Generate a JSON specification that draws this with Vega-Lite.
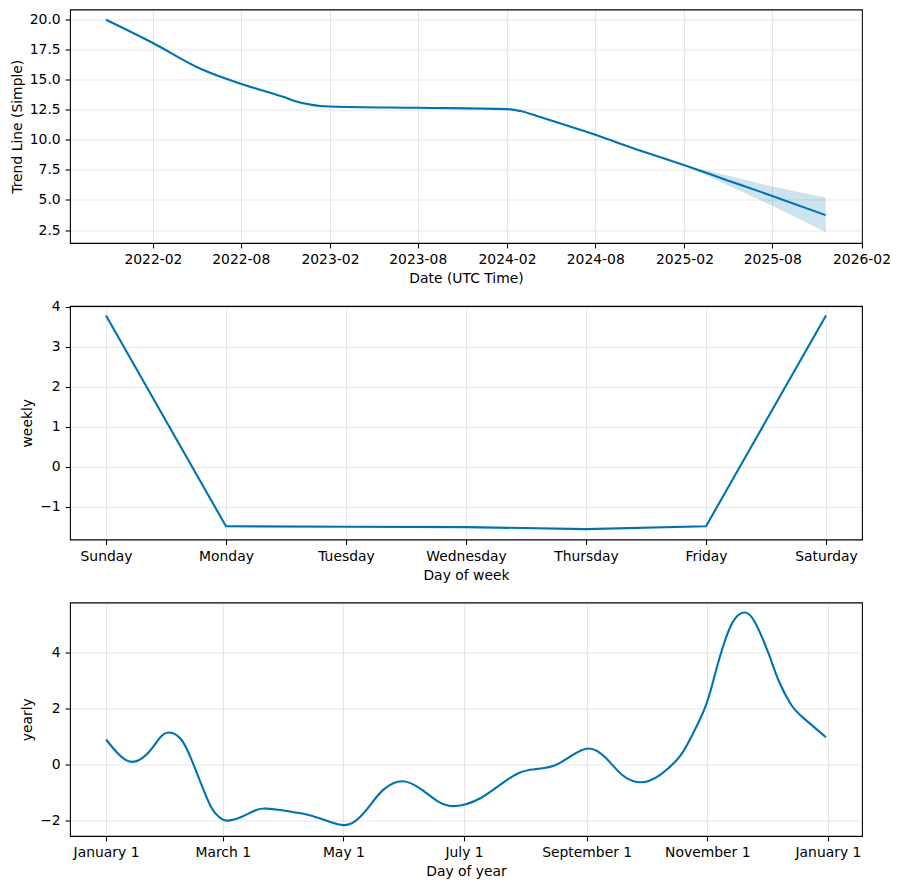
{
  "$schema": "https://vega.github.io/schema/vega-lite/v6.json",
  "padding": {"left": 9, "top": 8.5, "right": 5, "bottom": 5},
  "background": "white",
  "spacing": 62.5,
  "bounds": "flush",
  "datasets": {
    "trend": [
      {"ds": "2021-10-27", "trend": 20.0},
      {"ds": "2022-02-01", "trend": 18.06},
      {"ds": "2022-05-10", "trend": 15.92},
      {"ds": "2022-08-01", "trend": 14.67},
      {"ds": "2022-10-29", "trend": 13.56},
      {"ds": "2022-11-18", "trend": 13.26},
      {"ds": "2022-12-29", "trend": 12.89},
      {"ds": "2023-01-12", "trend": 12.82},
      {"ds": "2023-02-01", "trend": 12.78},
      {"ds": "2023-08-01", "trend": 12.67},
      {"ds": "2024-02-01", "trend": 12.56},
      {"ds": "2024-03-02", "trend": 12.39},
      {"ds": "2024-04-08", "trend": 11.92},
      {"ds": "2024-08-01", "trend": 10.42},
      {"ds": "2024-11-01", "trend": 9.12},
      {"ds": "2025-02-01", "trend": 7.88, "trend_lower": 7.88, "trend_upper": 7.88},
      {"ds": "2025-05-01", "trend": 6.63, "trend_lower": 6.23, "trend_upper": 7.03},
      {"ds": "2025-08-01", "trend": 5.34, "trend_lower": 4.51, "trend_upper": 6.12},
      {"ds": "2025-11-19", "trend": 3.74, "trend_lower": 2.33, "trend_upper": 5.2}
    ],
    "weekly": [
      {"day": "Sunday", "weekly": 3.775},
      {"day": "Monday", "weekly": -1.49},
      {"day": "Tuesday", "weekly": -1.5},
      {"day": "Wednesday", "weekly": -1.51},
      {"day": "Thursday", "weekly": -1.56},
      {"day": "Friday", "weekly": -1.49},
      {"day": "Saturday", "weekly": 3.775}
    ],
    "yearly": [
      {"ds": "2017-01-01", "yearly": 0.89},
      {"ds": "2017-01-07", "yearly": 0.39},
      {"ds": "2017-01-14", "yearly": 0.09},
      {"ds": "2017-01-22", "yearly": 0.39},
      {"ds": "2017-01-28", "yearly": 0.93},
      {"ds": "2017-02-02", "yearly": 1.14},
      {"ds": "2017-02-08", "yearly": 0.89},
      {"ds": "2017-02-13", "yearly": 0.21},
      {"ds": "2017-02-18", "yearly": -0.68},
      {"ds": "2017-02-23", "yearly": -1.51},
      {"ds": "2017-02-27", "yearly": -1.87},
      {"ds": "2017-03-03", "yearly": -2.01},
      {"ds": "2017-03-10", "yearly": -1.89},
      {"ds": "2017-03-18", "yearly": -1.63},
      {"ds": "2017-03-23", "yearly": -1.58},
      {"ds": "2017-03-29", "yearly": -1.62},
      {"ds": "2017-04-06", "yearly": -1.71},
      {"ds": "2017-04-14", "yearly": -1.82},
      {"ds": "2017-04-24", "yearly": -2.05},
      {"ds": "2017-05-01", "yearly": -2.17},
      {"ds": "2017-05-07", "yearly": -2.03},
      {"ds": "2017-05-14", "yearly": -1.51},
      {"ds": "2017-05-21", "yearly": -0.92},
      {"ds": "2017-05-31", "yearly": -0.6},
      {"ds": "2017-06-10", "yearly": -0.92},
      {"ds": "2017-06-18", "yearly": -1.33},
      {"ds": "2017-06-27", "yearly": -1.49},
      {"ds": "2017-07-09", "yearly": -1.22},
      {"ds": "2017-07-19", "yearly": -0.74},
      {"ds": "2017-07-29", "yearly": -0.3},
      {"ds": "2017-08-06", "yearly": -0.17},
      {"ds": "2017-08-15", "yearly": -0.06},
      {"ds": "2017-08-23", "yearly": 0.25},
      {"ds": "2017-09-02", "yearly": 0.57},
      {"ds": "2017-09-11", "yearly": 0.21},
      {"ds": "2017-09-19", "yearly": -0.38},
      {"ds": "2017-09-28", "yearly": -0.64},
      {"ds": "2017-10-08", "yearly": -0.38},
      {"ds": "2017-10-18", "yearly": 0.28},
      {"ds": "2017-10-24", "yearly": 1.0},
      {"ds": "2017-10-31", "yearly": 2.06},
      {"ds": "2017-11-05", "yearly": 3.25},
      {"ds": "2017-11-10", "yearly": 4.44},
      {"ds": "2017-11-15", "yearly": 5.21},
      {"ds": "2017-11-20", "yearly": 5.43},
      {"ds": "2017-11-25", "yearly": 5.09},
      {"ds": "2017-12-02", "yearly": 3.96},
      {"ds": "2017-12-07", "yearly": 3.01},
      {"ds": "2017-12-13", "yearly": 2.18},
      {"ds": "2017-12-19", "yearly": 1.7},
      {"ds": "2017-12-31", "yearly": 0.97}
    ]
  },
  "vconcat": [
    {
      "width": 792,
      "height": 233.5,
      "data": {"name": "trend"},
      "layer": [
        {
          "mark": {"type": "area", "color": "#0072B2", "opacity": 0.2},
          "encoding": {
            "x": {
              "field": "ds", "type": "temporal", "title": "Date (UTC Time)",
              "scale": {"type": "utc", "nice": false, "domain": [{"year": 2021, "month": 8, "date": 14, "utc": true}, {"year": 2026, "month": 2, "date": 2, "utc": true}]},
              "axis": {"format": "%Y-%m", "values": [
                {"year": 2022, "month": 2, "date": 1, "utc": true},
                {"year": 2022, "month": 8, "date": 1, "utc": true},
                {"year": 2023, "month": 2, "date": 1, "utc": true},
                {"year": 2023, "month": 8, "date": 1, "utc": true},
                {"year": 2024, "month": 2, "date": 1, "utc": true},
                {"year": 2024, "month": 8, "date": 1, "utc": true},
                {"year": 2025, "month": 2, "date": 1, "utc": true},
                {"year": 2025, "month": 8, "date": 1, "utc": true},
                {"year": 2026, "month": 2, "date": 1, "utc": true}
              ]}
            },
            "y": {
              "field": "trend_lower", "type": "quantitative", "title": "Trend Line (Simple)",
              "scale": {"domain": [1.42, 20.85], "nice": false, "zero": false},
              "axis": {"values": [2.5, 5, 7.5, 10, 12.5, 15, 17.5, 20], "format": ".1f"}
            },
            "y2": {"field": "trend_upper"}
          }
        },
        {
          "mark": {"type": "line", "color": "#0072B2", "strokeWidth": 2.1, "interpolate": "monotone"},
          "encoding": {
            "x": {
              "field": "ds", "type": "temporal", "title": "Date (UTC Time)",
              "scale": {"type": "utc", "nice": false, "domain": [{"year": 2021, "month": 8, "date": 14, "utc": true}, {"year": 2026, "month": 2, "date": 2, "utc": true}]},
              "axis": {"format": "%Y-%m", "values": [
                {"year": 2022, "month": 2, "date": 1, "utc": true},
                {"year": 2022, "month": 8, "date": 1, "utc": true},
                {"year": 2023, "month": 2, "date": 1, "utc": true},
                {"year": 2023, "month": 8, "date": 1, "utc": true},
                {"year": 2024, "month": 2, "date": 1, "utc": true},
                {"year": 2024, "month": 8, "date": 1, "utc": true},
                {"year": 2025, "month": 2, "date": 1, "utc": true},
                {"year": 2025, "month": 8, "date": 1, "utc": true},
                {"year": 2026, "month": 2, "date": 1, "utc": true}
              ]}
            },
            "y": {
              "field": "trend", "type": "quantitative", "title": "Trend Line (Simple)",
              "scale": {"domain": [1.42, 20.85], "nice": false, "zero": false},
              "axis": {"values": [2.5, 5, 7.5, 10, 12.5, 15, 17.5, 20], "format": ".1f"}
            }
          }
        }
      ]
    },
    {
      "width": 792,
      "height": 233.5,
      "data": {"name": "weekly"},
      "mark": {"type": "line", "color": "#0072B2", "strokeWidth": 2.1},
      "encoding": {
        "x": {
          "field": "day", "type": "nominal", "title": "Day of week",
          "sort": ["Sunday", "Monday", "Tuesday", "Wednesday", "Thursday", "Friday", "Saturday"],
          "scale": {"type": "point", "padding": 0.3},
          "axis": {"labelAngle": 0}
        },
        "y": {
          "field": "weekly", "type": "quantitative", "title": "weekly",
          "scale": {"domain": [-1.82, 4.015], "nice": false, "zero": false},
          "axis": {"values": [-1, 0, 1, 2, 3, 4]}
        }
      }
    },
    {
      "width": 792,
      "height": 233.5,
      "data": {"name": "yearly"},
      "mark": {"type": "line", "color": "#0072B2", "strokeWidth": 2.1, "interpolate": "natural"},
      "encoding": {
        "x": {
          "field": "ds", "type": "temporal", "title": "Day of year",
          "scale": {"type": "utc", "nice": false, "domain": [{"year": 2016, "month": 12, "date": 13, "hours": 19, "utc": true}, {"year": 2018, "month": 1, "date": 18, "hours": 5, "utc": true}]},
          "axis": {"format": "%B %-d", "values": [
            {"year": 2017, "month": 1, "date": 1, "utc": true},
            {"year": 2017, "month": 3, "date": 1, "utc": true},
            {"year": 2017, "month": 5, "date": 1, "utc": true},
            {"year": 2017, "month": 7, "date": 1, "utc": true},
            {"year": 2017, "month": 9, "date": 1, "utc": true},
            {"year": 2017, "month": 11, "date": 1, "utc": true},
            {"year": 2018, "month": 1, "date": 1, "utc": true}
          ]}
        },
        "y": {
          "field": "yearly", "type": "quantitative", "title": "yearly",
          "scale": {"domain": [-2.56, 5.79], "nice": false, "zero": false},
          "axis": {"values": [-2, 0, 2, 4]}
        }
      }
    }
  ],
  "config": {
    "font": "DejaVu Sans",
    "view": {"stroke": "black", "strokeWidth": 1.1},
    "axis": {
      "domain": false,
      "grid": true,
      "gridColor": "#808080",
      "gridOpacity": 0.2,
      "gridWidth": 1,
      "tickColor": "black",
      "tickSize": 4.9,
      "tickWidth": 1.1,
      "labelFont": "DejaVu Sans",
      "labelFontSize": 13.9,
      "labelColor": "black",
      "labelPadding": 4.9,
      "labelFlush": false,
      "labelOverlap": false,
      "titleFont": "DejaVu Sans",
      "titleFontSize": 13.9,
      "titleFontWeight": "normal",
      "titleColor": "black",
      "titlePadding": 5
    }
  }
}
